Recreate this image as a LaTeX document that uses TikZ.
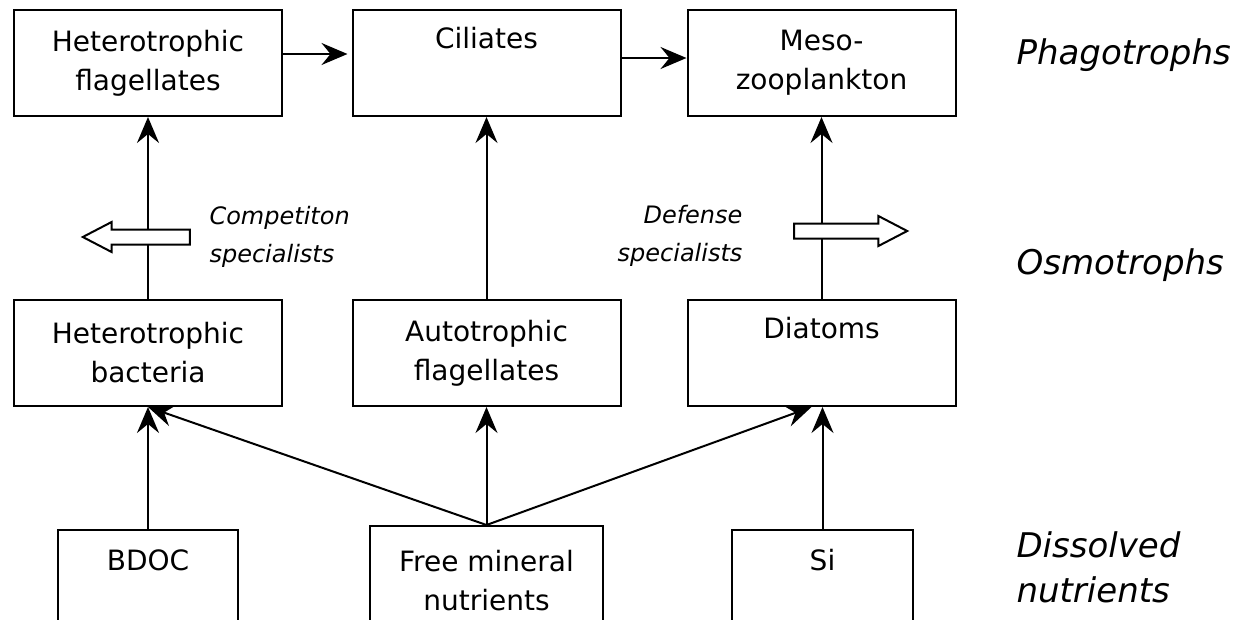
\documentclass[tikz,border=0pt]{standalone}
\usepackage{fontspec}
\setmainfont{DejaVu Sans}
\usetikzlibrary{arrows.meta,shapes.arrows}

\begin{document}
\begin{tikzpicture}[x=1pt,y=-1pt,
  box/.style={draw, line width=2pt, rectangle, minimum width=268pt,
    minimum height=106pt, align=center, inner sep=0pt,
    font=\fontsize{28}{39}\selectfont},
  link/.style={line width=2pt, -{Stealth[length=26pt,width=22pt,inset=9pt]}},
  tier/.style={anchor=west, align=left, font=\fontsize{34}{45}\selectfont\itshape},
  note/.style={font=\fontsize{24}{38}\selectfont\itshape},
  shiftarrow/.style={single arrow, draw, fill=white, line width=2pt,
    inner sep=6.5pt, minimum width=28pt, single arrow head extend=7.5pt,
    single arrow tip angle=55}
]
\useasboundingbox (0,0) rectangle (1237,619);
\clip (0,0) rectangle (1237,619);

% phagotrophs
\node[box] (hf)   at (148,63)   {Heterotrophic\\flagellates};
\node[box] (cil)  at (486.5,63) {Ciliates\\\strut};
\node[box] (meso) at (821.5,63) {Meso-\\zooplankton};

% osmotrophs
\node[box] (hb)  at (148,353)   {Heterotrophic\\bacteria};
\node[box] (af)  at (486.5,353) {Autotrophic\\flagellates};
\node[box] (dia) at (821.5,353) {Diatoms\\\strut};

% dissolved nutrients (boxes run off the lower edge)
\node[box, minimum width=180pt, minimum height=110pt] (bdoc) at (148,585)   {BDOC\\\strut};
\node[box, minimum width=233pt, minimum height=110pt] (free) at (486.5,581) {Free mineral\\nutrients};
\node[box, minimum width=181pt, minimum height=110pt] (si)   at (822.5,585) {Si\\\strut};

% grazing links
\draw[link] ([yshift=9pt]hf.east) -- ([yshift=9pt,xshift=-4pt]cil.west);
\draw[link] ([yshift=5pt]cil.east) -- ([yshift=5pt]meso.west);
\draw[link] (hb.north) -- (hf.south);
\draw[link] (af.north) -- (cil.south);
\draw[link] (dia.north) -- (meso.south);

% uptake links
\draw[link] (bdoc.north) -- (hb.south);
\draw[link] (free.north) -- (af.south);
\draw[link] (si.north) -- ([xshift=1pt]dia.south);
\draw[link] (free.north) -- (hb.south);
\draw[link] (free.north) -- ([xshift=-10pt]dia.south);

% specialist shifts
\node[shiftarrow, minimum height=107pt, shape border rotate=180] (compete) at (143.5,237) {};
\node[shiftarrow, minimum height=113pt] (defend) at (843.5,231) {};
\node[note, anchor=west, align=left] (complab) at (206,237) {Competiton\\specialists};
\node[note, anchor=east, align=right] (deflab) at (746,236) {Defense\\specialists};

% trophic levels
\node[tier] (phago) at (1013,55)  {Phagotrophs};
\node[tier] (osmo)  at (1013,265) {Osmotrophs};
\node[tier] (diss)  at (1013,567) {Dissolved\\nutrients};
\end{tikzpicture}
\end{document}
